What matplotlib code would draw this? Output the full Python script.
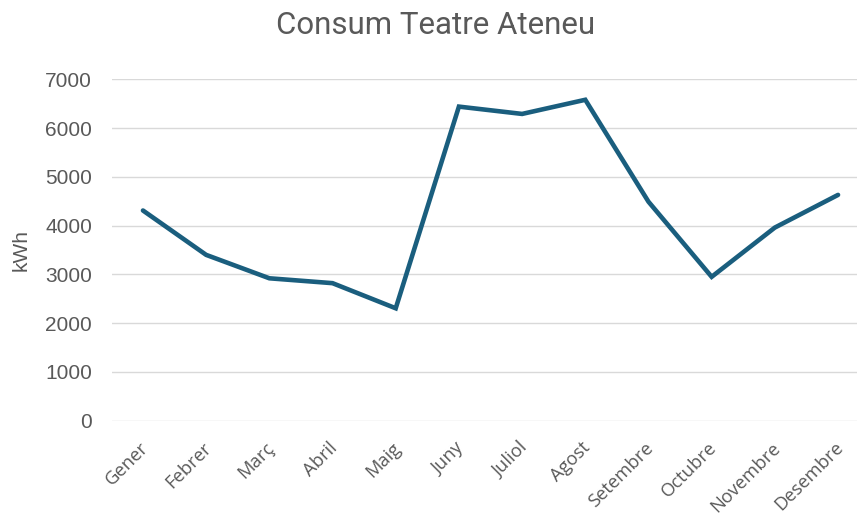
import matplotlib
matplotlib.use("Agg")
import matplotlib.pyplot as plt
import matplotlib.transforms as mtransforms

months = ["Gener", "Febrer", "Març", "Abril", "Maig", "Juny", "Juliol",
          "Agost", "Setembre", "Octubre", "Novembre", "Desembre"]
consum = [4310, 3400, 2920, 2820, 2305, 6440, 6290, 6580, 4490, 2950, 3960, 4630]
yticks = [0, 1000, 2000, 3000, 4000, 5000, 6000, 7000]

W, H = 857, 515
fig = plt.figure(figsize=(W / 100, H / 100), dpi=100)
left, right, top, bottom = 112, 857, 79.3, 420.7
ax = fig.add_axes([left / W, 1 - bottom / H, (right - left) / W, (bottom - top) / H])

x = list(range(len(months)))
ax.plot(x, consum, color="#1A5E7E", linewidth=3.3, solid_capstyle="round",
        solid_joinstyle="miter")

ax.set_ylim(0, 7000)
ax.set_xlim(-0.49, 11.3)
ax.set_yticks(yticks)
ax.set_yticklabels([str(v) for v in yticks], fontsize=15, color="#595959",
                   family="Liberation Sans")
ax.set_xticks(x)
ax.set_xticklabels(months, rotation=45, ha="right", rotation_mode="anchor",
                   fontsize=13.2, color="#595959", family="Open Sans")
ax.tick_params(axis="both", length=0)
ax.tick_params(axis="y", pad=14.4)
ax.tick_params(axis="x", pad=13)
off = mtransforms.ScaledTranslation(-4 / 100, 0, fig.dpi_scale_trans)
for lab in ax.get_xticklabels():
    lab.set_transform(lab.get_transform() + off)
ax.grid(axis="y", color="#D9D9D9", linewidth=1.0)
ax.set_axisbelow(True)
for s in ax.spines.values():
    s.set_visible(False)

ax.set_ylabel("kWh", fontsize=15, color="#595959", family="Liberation Sans")
ax.yaxis.set_label_coords(-81 / (right - left), 0.5)

fig.text(436 / W, 1 - 26 / H, "Consum Teatre Ateneu", ha="center", va="center",
         fontsize=22.5, color="#595959", family="Roboto")

fig.savefig("out.png", dpi=100)
